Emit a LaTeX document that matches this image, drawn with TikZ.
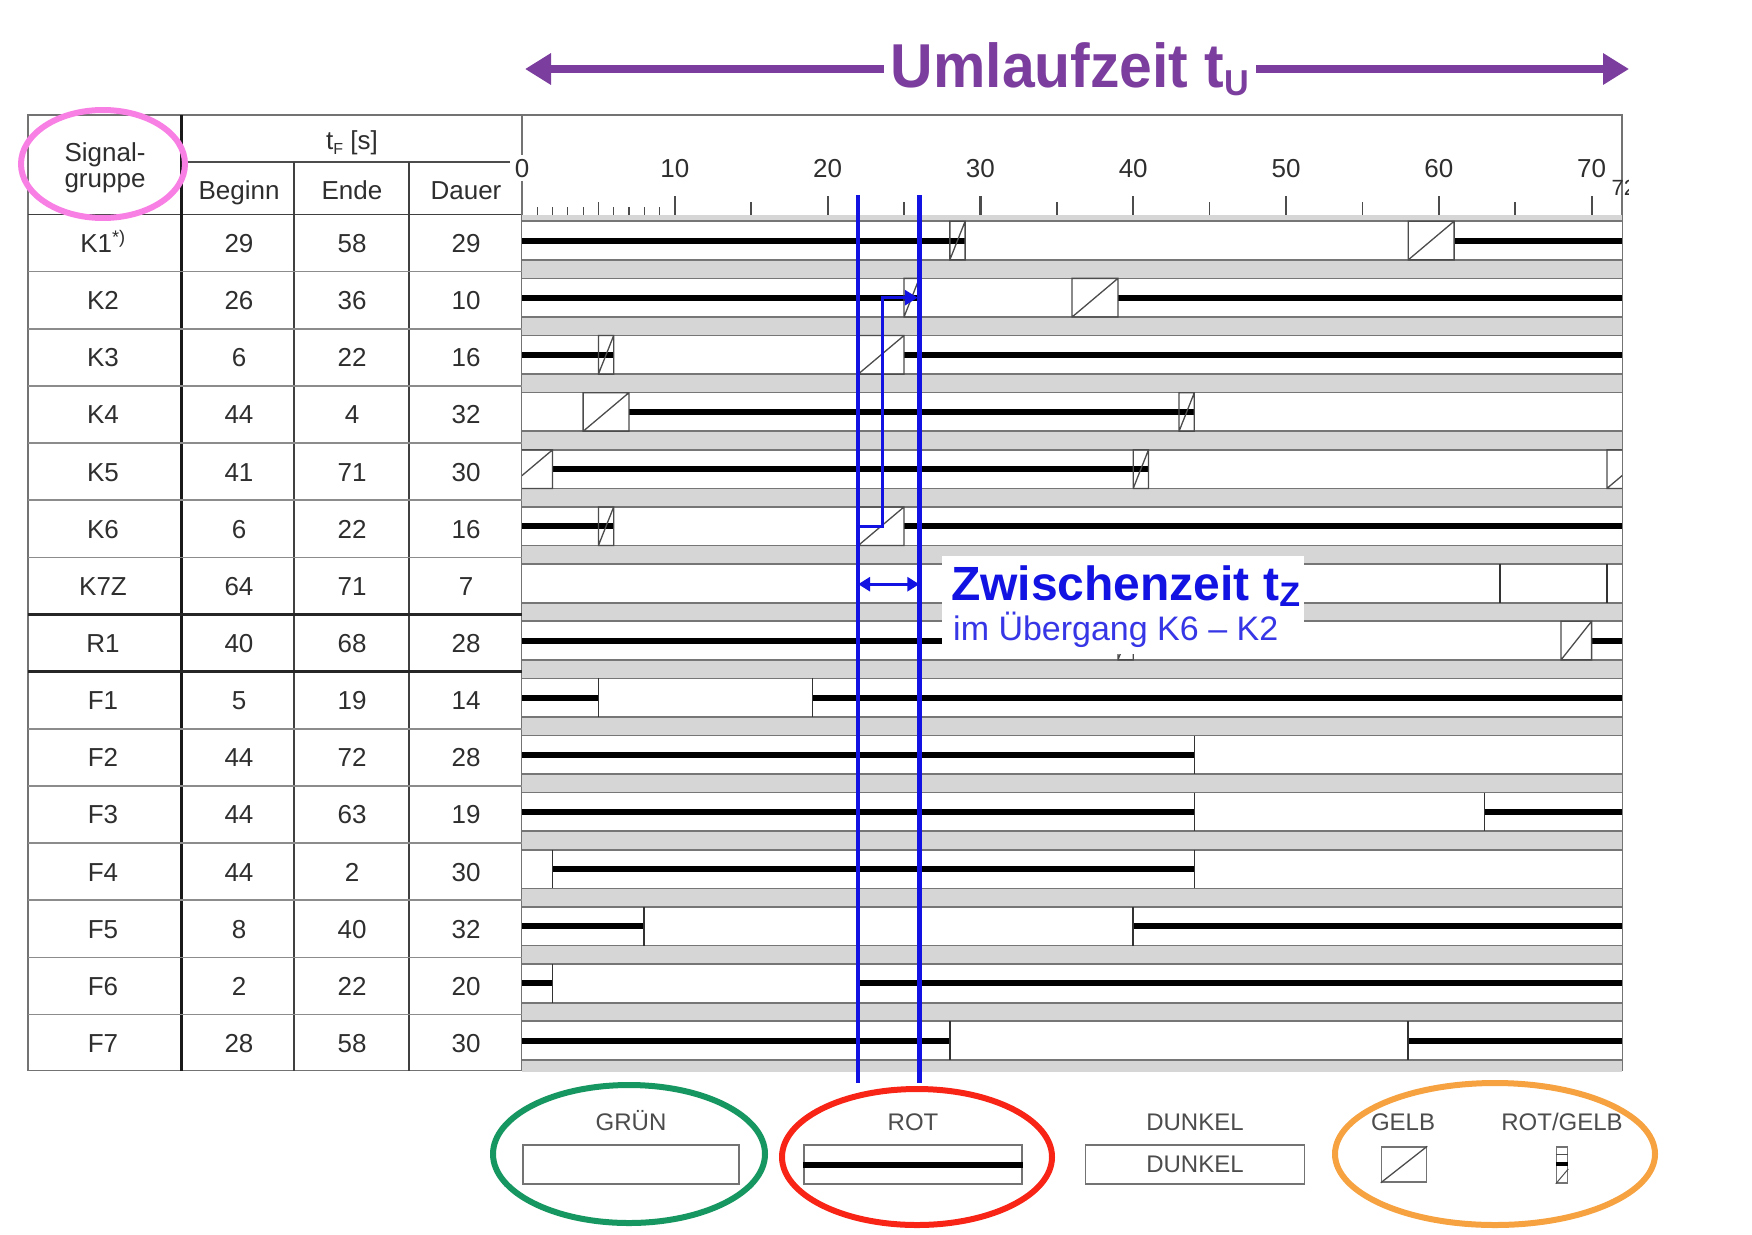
\documentclass[tikz,border=0pt]{standalone}
\usepackage{fontspec}
\setmainfont{Liberation Sans}
\usepackage{tikz}
\usetikzlibrary{arrows.meta}

\definecolor{lila}{RGB}{124,62,158}
\definecolor{zwblau}{RGB}{18,18,226}
\definecolor{bandgrau}{RGB}{214,214,214}
\definecolor{randgrau}{RGB}{118,118,118}
\definecolor{kreisgruen}{RGB}{22,150,96}
\definecolor{kreisrot}{RGB}{248,36,22}
\definecolor{kreisorange}{RGB}{246,162,64}
\definecolor{kreispink}{RGB}{248,128,228}

\begin{document}
\begin{tikzpicture}[
    x=1pt, y=-1pt,
    font=\fontsize{26}{30}\selectfont,
    kopf/.style={text=black!82, inner sep=0pt, anchor=base},
    tab/.style={kopf, yshift=-9.5pt},
    rot/.style={line width=6pt, black},
    gelb/.style={line width=1.3pt, black!70},
    marke/.style={line width=1.6pt, black!80},
    tick/.style={line width=1.6pt, black!70},
    ring/.style={line width=6pt},
    leg/.style={text=black!70, inner sep=0pt, anchor=base, font=\fontsize{24}{26}\selectfont},
    legbox/.style={draw=black!55, line width=1.5pt, inner sep=0pt},
    blau/.style={zwblau, line width=4.5pt},
  ]
  \useasboundingbox (0,0) rectangle (1752,1234);

  %% ---- cycle time arrow -------------------------------------------------
  \coordinate (ul) at (525,69);
  \coordinate (ur) at (1629,69);
  \draw[lila, line width=8pt,
    {Triangle[length=26pt,width=30pt]}-{Triangle[length=26pt,width=30pt]}] (ul) -- (ur);
  \node[kopf, fill=white, inner xsep=7pt, inner ysep=4pt, text=lila,
    font=\bfseries\fontsize{62}{64}\selectfont] (tu) at (1070,87)
    {\scalebox{0.95}[1]{Umlaufzeit t\raisebox{-8pt}{\fontsize{36}{36}\selectfont U}}};

  %% ---- table frame --------------------------------------------------------
  \draw[line width=1.5pt, black!55] (28,115) rectangle (1622,1070.5);
  \draw[line width=1.5pt, black!70] (181,162) -- (510,162);
  \draw[line width=1.8pt, black!75] (28,214.5) -- (522,214.5);
  \draw[line width=3pt, black!90] (181,115) -- (181,1070.5);
  \draw[line width=2pt, black!75] (294,162) -- (294,1070.5) (409,162) -- (409,1070.5);
  \draw[line width=1.5pt, black!55] (522,115) -- (522,155) (522,181) -- (522,1070.5);

  \node[kopf] (kSig) at (105,161) {Signal-};
  \node[kopf] (kGr) at (105,187) {gruppe};
  \node[kopf] (kTf) at (352,149) {t\raisebox{-5pt}{\fontsize{16}{16}\selectfont F} [s]};
  \node[kopf] (kBeg) at (239,199) {Beginn};
  \node[kopf] (kEnd) at (352,199) {Ende};
  \node[kopf] (kDau) at (466,199) {Dauer};

  %% ---- table rows ---------------------------------------------------------
  \begin{scope}[shift={(0,214.5)}, y=-57.14pt]
    \foreach \k in {1,...,14}
      \draw[line width=1.5pt, black!45] (28,\k) -- (522,\k);
    \draw[line width=2.5pt, black!85] (28,7) -- (522,7) (28,8) -- (522,8);
    \foreach \sgname/\tbeg/\tend/\tdau [count=\k from 0] in
      {K1\textsuperscript{*)}/29/58/29, K2/26/36/10, K3/6/22/16, K4/44/4/32,
       K5/41/71/30, K6/6/22/16, K7Z/64/71/7, R1/40/68/28, F1/5/19/14,
       F2/44/72/28, F3/44/63/19, F4/44/2/30, F5/8/40/32, F6/2/22/20,
       F7/28/58/30} {
      \node[tab] (sg\k) at (103,\k+0.5) {\sgname};
      \node[tab] (beg\k) at (239,\k+0.5) {\tbeg};
      \node[tab] (end\k) at (352,\k+0.5) {\tend};
      \node[tab] (dau\k) at (466,\k+0.5) {\tdau};
    }
  \end{scope}

  %% ---- signal time chart --------------------------------------------------
  \begin{scope}[shift={(522,214.5)}, x=15.28pt, y=-57.14pt]
    \begin{scope}
      \clip (0,0) rectangle (72,15);
      \fill[bandgrau] (0,0) rectangle (72,15);
      \foreach \k in {0,...,14} {
        \fill[white] (0,\k+0.118) rectangle (72,\k+0.794);
        \draw[line width=1.6pt, randgrau] (0,\k+0.118) -- (72,\k+0.118)
                                          (0,\k+0.794) -- (72,\k+0.794);
      }
      % rot
      \foreach \k/\ta/\tb in {0/0/29, 0/61/72, 1/0/26, 1/39/72, 2/0/6, 2/25/72,
          3/7/44, 4/2/41, 5/0/6, 5/25/72, 7/0/40, 7/70/72, 8/0/5, 8/19/72,
          9/0/44, 10/0/44, 10/63/72, 11/2/44, 12/0/8, 12/40/72, 13/0/2,
          13/22/72, 14/0/28, 14/58/72}
        \draw[rot] (\ta,\k+0.456) -- (\tb,\k+0.456);
      % gelb
      \foreach \k/\ta/\tb in {0/58/61, 1/36/39, 2/22/25, 3/4/7, 4/71/74, 4/-1/2,
          5/22/25, 7/68/70}
        \draw[gelb] (\ta,\k+0.794) rectangle (\tb,\k+0.118)
                    (\ta,\k+0.794) -- (\tb,\k+0.118);
      % rot/gelb
      \foreach \k/\ta in {0/28, 1/25, 2/5, 3/43, 4/40, 5/5, 7/39}
        \draw[gelb] (\ta,\k+0.794) rectangle (\ta+1,\k+0.118)
                    (\ta,\k+0.794) -- (\ta+1,\k+0.118);
      % green limits
      \foreach \k/\tm in {6/64, 6/71, 8/5, 8/19, 9/44, 10/44, 10/63, 11/2, 11/44,
          12/8, 12/40, 13/2, 13/22, 14/28, 14/58}
        \draw[marke] (\tm,\k+0.118) -- (\tm,\k+0.794);
    \end{scope}

    % ruler
    \foreach \tm in {1,2,3,4,6,7,8,9} \draw[tick, line width=1.2pt] (\tm,0) -- (\tm,-0.14);
    \foreach \tm in {5,15,...,65} \draw[tick] (\tm,0) -- (\tm,-0.22);
    \foreach \tm in {10,20,...,70} \draw[tick, line width=2.2pt] (\tm,0) -- (\tm,-0.32);
    \foreach \tm in {0,10,...,70} \node[kopf] (n\tm) at (\tm,-0.656) {\tm};
    \begin{scope}
      \clip (64,-1) rectangle (72.4,0);
      \node[kopf, anchor=base west, font=\fontsize{22}{24}\selectfont] (n72) at (71.3,-0.34) {72};
    \end{scope}

    %% ---- intergreen time K6 -> K2 ----------------------------------------
    \coordinate (zwo) at (22,-0.34);
    \coordinate (zwu) at (22,15.2);
    \coordinate (zno) at (26,-0.34);
    \coordinate (znu) at (26,15.2);
    \draw[blau] (zwo) -- (zwu);
    \draw[blau] (zno) -- (znu);
    \coordinate (k6ende) at (22,5.456);
    \coordinate (k2beginn) at (25.9,1.456);
    \draw[blau, line width=3.5pt, -{Triangle[length=13pt,width=15pt]}]
      (k6ende) -- (23.6,5.456) -- (23.6,1.456) -- (k2beginn);
    \coordinate (tzl) at (22,6.47);
    \coordinate (tzr) at (26,6.47);
    \draw[blau, line width=3pt,
      {Triangle[length=12pt,width=14pt]}-{Triangle[length=12pt,width=14pt]}] (tzl) -- (tzr);
  \end{scope}

  \fill[white] (942,556) rectangle (1304,654);
  \node[kopf, anchor=base west, text=zwblau, font=\bfseries\fontsize{48}{50}\selectfont]
    (zwz) at (951,600) {Zwischenzeit t\raisebox{-6pt}{\fontsize{34}{34}\selectfont Z}};
  \node[kopf, anchor=base west, text=zwblau!85!white, font=\fontsize{34}{36}\selectfont]
    (uebg) at (953,640) {im Übergang K6 – K2};

  %% ---- legend -------------------------------------------------------------
  \node[leg] (lgruen) at (631,1130) {GRÜN};
  \node[legbox, minimum width=216pt, minimum height=39pt] (bgruen) at (631,1164.5) {};
  \node[leg] (lrot) at (913,1130) {ROT};
  \node[legbox, minimum width=218pt, minimum height=39pt] (brot) at (913,1164.5) {};
  \draw[rot] (brot.west) -- (brot.east);
  \node[leg] (ldunkel) at (1195,1130) {DUNKEL};
  \node[legbox, minimum width=219pt, minimum height=39pt, text=black!70,
    font=\fontsize{24}{26}\selectfont] (bdunkel) at (1195,1164.5) {DUNKEL};
  \node[leg] (lgelb) at (1403,1130) {GELB};
  \node[legbox, minimum width=45pt, minimum height=35pt] (bgelb) at (1404,1164.5) {};
  \draw[gelb] (bgelb.south west) -- (bgelb.north east);
  \node[leg] (lrotgelb) at (1562,1130) {ROT/GELB};
  \node[legbox, minimum width=11pt, minimum height=36pt] (brotgelb) at (1562,1165) {};
  \draw[line width=1pt, black!70] ([yshift=-8pt]brotgelb.north west) -- ([yshift=-8pt]brotgelb.north east);
  \draw[line width=4pt] ([yshift=1pt]brotgelb.west) -- ([yshift=1pt]brotgelb.east);
  \draw[line width=1pt, black!70] (brotgelb.south west) -- ([yshift=-4pt]brotgelb.east);

  %% ---- highlight rings ----------------------------------------------------
  \draw[ring, kreispink] (103,164) ellipse [x radius=82pt, y radius=54pt];
  \draw[ring, kreisgruen] (629,1154) ellipse [x radius=136pt, y radius=69pt];
  \draw[ring, kreisrot] (917,1157) ellipse [x radius=135pt, y radius=68pt];
  \draw[ring, kreisorange] (1495,1154) ellipse [x radius=160pt, y radius=71pt];
\end{tikzpicture}
\end{document}
